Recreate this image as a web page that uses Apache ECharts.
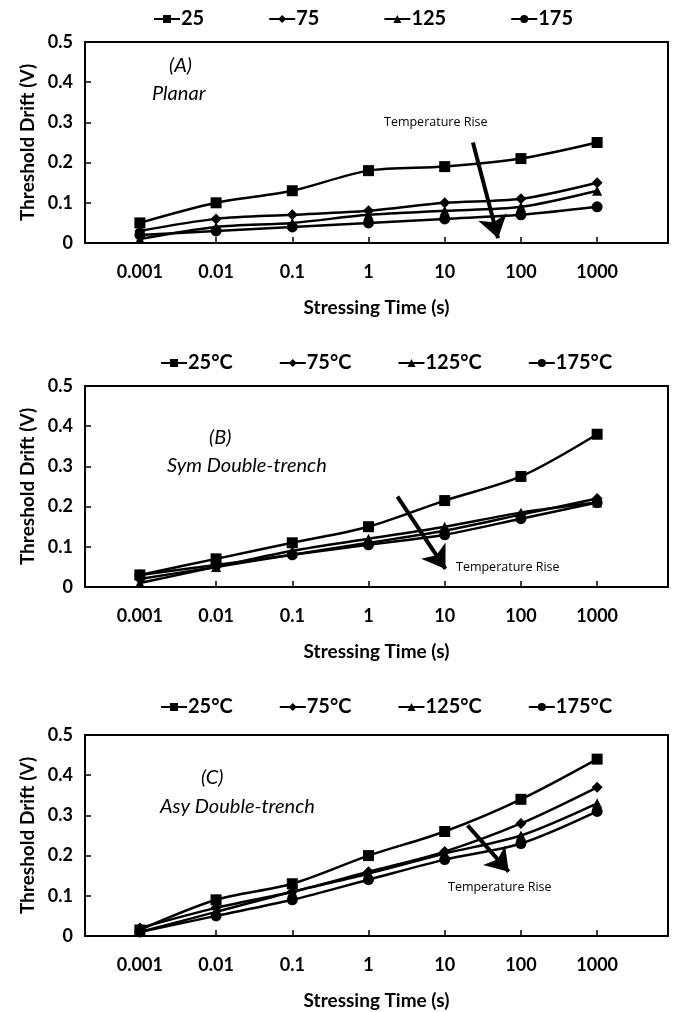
<!DOCTYPE html>
<html><head><meta charset="utf-8">
<script src="https://cdn.jsdelivr.net/npm/echarts@6/dist/echarts.min.js"></script>
<style>html,body{margin:0;padding:0;background:#fff}#c{width:677px;height:1012px}</style>
</head><body><div id="c"></div>
<script>
const timeLabels = ['0.001','0.01','0.1','1','10','100','1000'];
const namesA = ['25','75','125','175'];
const namesBC = ['25°C','75°C','125°C','175°C'];
const symbols = ['rect','diamond','triangle','circle'];

const planar25  = [0.05,0.10,0.13,0.18,0.19,0.21,0.25];
const planar75  = [0.03,0.06,0.07,0.08,0.10,0.11,0.15];
const planar125 = [0.01,0.04,0.05,0.07,0.08,0.09,0.13];
const planar175 = [0.02,0.03,0.04,0.05,0.06,0.07,0.09];

const sym25  = [0.03,0.07,0.11,0.15,0.215,0.275,0.38];
const sym75  = [0.02,0.05,0.08,0.11,0.14,0.18,0.22];
const sym125 = [0.01,0.05,0.09,0.12,0.15,0.185,0.21];
const sym175 = [0.03,0.055,0.08,0.105,0.13,0.17,0.21];

const asy25  = [0.015,0.09,0.13,0.20,0.26,0.34,0.44];
const asy75  = [0.02,0.07,0.11,0.16,0.21,0.28,0.37];
const asy125 = [0.01,0.06,0.11,0.155,0.205,0.25,0.33];
const asy175 = [0.01,0.05,0.09,0.14,0.19,0.23,0.31];

// arrows [x-index, value] start/end
const arrowA = [[4.37,0.25],[4.70,0.012]];
const arrowB = [[3.38,0.225],[4.01,0.045]];
const arrowC = [[4.30,0.275],[4.84,0.16]];

const FONT = 'Lato';
const panels = [
  {top:42, names:namesA, data:[planar25,planar75,planar125,planar175], arrow:arrowA, legendTop:4, legendLeft:148, gap:64},
  {top:386, names:namesBC, data:[sym25,sym75,sym125,sym175], arrow:arrowB, legendTop:348, legendLeft:155, gap:46},
  {top:735, names:namesBC, data:[asy25,asy75,asy125,asy175], arrow:arrowC, legendTop:692, legendLeft:155, gap:46}
];
const tickIdx = timeLabels.map((_,i)=>i);

const option = {
  animation:false,
  textStyle:{fontFamily:FONT},
  grid:[], xAxis:[], yAxis:[], legend:[], series:[], graphic:[]
};
panels.forEach((p,gi)=>{
  option.grid.push({left:85,right:9,top:p.top,height:201,show:true,borderColor:'#000',borderWidth:2,backgroundColor:'transparent'});
  option.xAxis.push({
    type:'value', gridIndex:gi, min:-0.72, max:6.93,
    name:'Stressing Time (s)', nameLocation:'middle', nameGap:55,
    nameTextStyle:{fontFamily:FONT,fontWeight:'bold',fontSize:19,color:'#000'},
    axisLine:{show:true,onZero:false,lineStyle:{color:'#000',width:2}},
    axisTick:{show:true,inside:true,length:6,customValues:tickIdx,lineStyle:{color:'#000',width:1.5}},
    axisLabel:{customValues:tickIdx,formatter:v=>timeLabels[Math.round(v)],margin:20,fontFamily:FONT,fontWeight:'bold',fontSize:18,color:'#000'},
    splitLine:{show:false}
  });
  option.yAxis.push({
    type:'value', gridIndex:gi, min:0, max:0.5, interval:0.1,
    name:'Threshold Drift (V)', nameLocation:'middle', nameGap:48,
    nameTextStyle:{fontFamily:FONT,fontWeight:'bold',fontSize:19,color:'#000'},
    axisLine:{show:true,onZero:false,lineStyle:{color:'#000',width:2}},
    axisTick:{show:true,inside:true,length:6,lineStyle:{color:'#000',width:1.5}},
    axisLabel:{formatter:v=>String(+v.toFixed(1)),margin:12,fontFamily:FONT,fontWeight:'bold',fontSize:18,color:'#000'},
    splitLine:{show:false}
  });
  option.legend.push({
    top:p.legendTop, left:p.legendLeft, itemGap:p.gap, itemWidth:26, itemHeight:10,
    data:p.names,
    textStyle:{fontFamily:FONT,fontWeight:'bold',fontSize:20,color:'#000',padding:[0,0,0,-4]}
  });
  p.names.forEach((n,si)=>{
    const s = {
      name:n, type:'line', xAxisIndex:gi, yAxisIndex:gi,
      data:p.data[si].map((v,i)=>[i,v]),
      smooth:0.3, symbol:symbols[si], symbolSize:si===2?10:11,
      lineStyle:{color:'#000',width:2.5}, itemStyle:{color:'#000'},
      z:3
    };
    if(si===0){
      s.markLine = {
        silent:true, symbol:['none','arrow'], symbolSize:22,
        label:{show:false},
        lineStyle:{color:'#000',width:4,type:'solid'},
        data:[[{coord:p.arrow[0]},{coord:p.arrow[1]}]]
      };
    }
    option.series.push(s);
  });
});
const it = {fontFamily:FONT,fontStyle:'italic',fontSize:20,fill:'#000'};
const sm = {fontFamily:'Open Sans',fontSize:12.5,fill:'#000'};
option.graphic = [
  {type:'text',left:169,top:56,style:Object.assign({text:'(A)'},it)},
  {type:'text',left:152,top:84,style:Object.assign({text:'Planar'},it)},
  {type:'text',left:384,top:116,style:Object.assign({text:'Temperature Rise'},sm)},
  {type:'text',left:209,top:428,style:Object.assign({text:'(B)'},it)},
  {type:'text',left:167,top:456,style:Object.assign({text:'Sym Double-trench'},it)},
  {type:'text',left:456,top:561,style:Object.assign({text:'Temperature Rise'},sm)},
  {type:'text',left:201,top:768,style:Object.assign({text:'(C)'},it)},
  {type:'text',left:160,top:797,style:Object.assign({text:'Asy Double-trench'},it)},
  {type:'text',left:448,top:881,style:Object.assign({text:'Temperature Rise'},sm)}
];
const chart = echarts.init(document.getElementById('c'),null,{renderer:'canvas'});
chart.setOption(option);
</script></body></html>
